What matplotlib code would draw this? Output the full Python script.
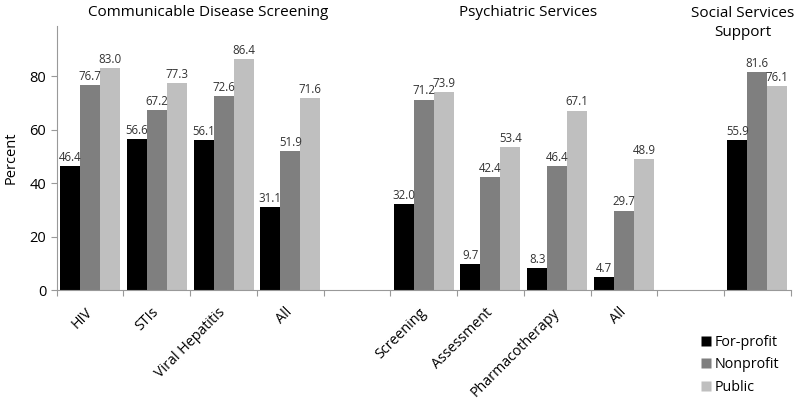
import matplotlib
matplotlib.use("Agg")
import matplotlib.pyplot as plt
from matplotlib.lines import Line2D

categories = ["HIV", "STIs", "Viral Hepatitis", "All", "", "Screening", "Assessment",
              "Pharmacotherapy", "All", "", ""]
for_profit = [46.4, 56.6, 56.1, 31.1, None, 32.0, 9.7, 8.3, 4.7, None, 55.9]
nonprofit = [76.7, 67.2, 72.6, 51.9, None, 71.2, 42.4, 46.4, 29.7, None, 81.6]
public = [83.0, 77.3, 86.4, 71.6, None, 73.9, 53.4, 67.1, 48.9, None, 76.1]
series_names = ["For-profit", "Nonprofit", "Public"]
series_colors = ["#000000", "#7f7f7f", "#bfbfbf"]
group_titles = ["Communicable Disease Screening", "Psychiatric Services", "Social Services\nSupport"]

plt.rcParams['font.family'] = ['Open Sans', 'DejaVu Sans']

fig = plt.figure(figsize=(8, 4.01), dpi=100)
ax = fig.add_axes([0.0709, 1 - 290 / 401, 0.9175, 264 / 401])

width = 0.3
offsets = [-0.3, 0.0, 0.3]
for vals, off, col in zip([for_profit, nonprofit, public], offsets, series_colors):
    xs = [i + off for i, v in enumerate(vals) if v is not None]
    ys = [v for v in vals if v is not None]
    ax.bar(xs, ys, width=width, color=col, edgecolor='none')
    for x, y in zip(xs, ys):
        ax.annotate(f"{y:.1f}", (x, y), xytext=(0, 1.5), textcoords='offset points',
                    ha='center', va='bottom', fontsize=8.3, color='#333333')

ax.set_xlim(-0.5, len(categories) - 0.5)
ax.set_ylim(0, 98.7)
ax.set_yticks([0, 20, 40, 60, 80])
ax.tick_params(axis='y', labelsize=10.5, length=4, color='#999999')
ax.set_xticks([i - 0.5 for i in range(len(categories) + 1)])
ax.set_xticklabels([])
ax.tick_params(axis='x', length=4, color='#999999')
for i, c in enumerate(categories):
    if c:
        ax.text(i - 0.08, -5.6, c, rotation=45, ha='right', va='top',
                rotation_mode='anchor', fontsize=10.3, transform=ax.transData)
for s in ['top', 'right']:
    ax.spines[s].set_visible(False)
for s in ['left', 'bottom']:
    ax.spines[s].set_color('#999999')
ax.set_ylabel("Percent", fontsize=10.5, labelpad=8)

fig.text(208 / 800, 1 - 13 / 401, group_titles[0], ha='center', va='center', fontsize=11)
fig.text(528 / 800, 1 - 13 / 401, group_titles[1], ha='center', va='center', fontsize=11)
fig.text(743 / 800, 1 - 23 / 401, group_titles[2], ha='center', va='center', fontsize=11,
         linespacing=1.3)

handles = [Line2D([], [], marker='s', linestyle='none', markersize=7.5,
                  markerfacecolor=c, markeredgecolor='none') for c in series_colors]
fig.legend(handles, series_names, loc='center left', bbox_to_anchor=(0.865, 0.09),
           frameon=False, fontsize=10.3, handletextpad=0.1, labelspacing=0.5,
           handlelength=1.0, borderpad=0)

fig.savefig("out.png", dpi=100)
